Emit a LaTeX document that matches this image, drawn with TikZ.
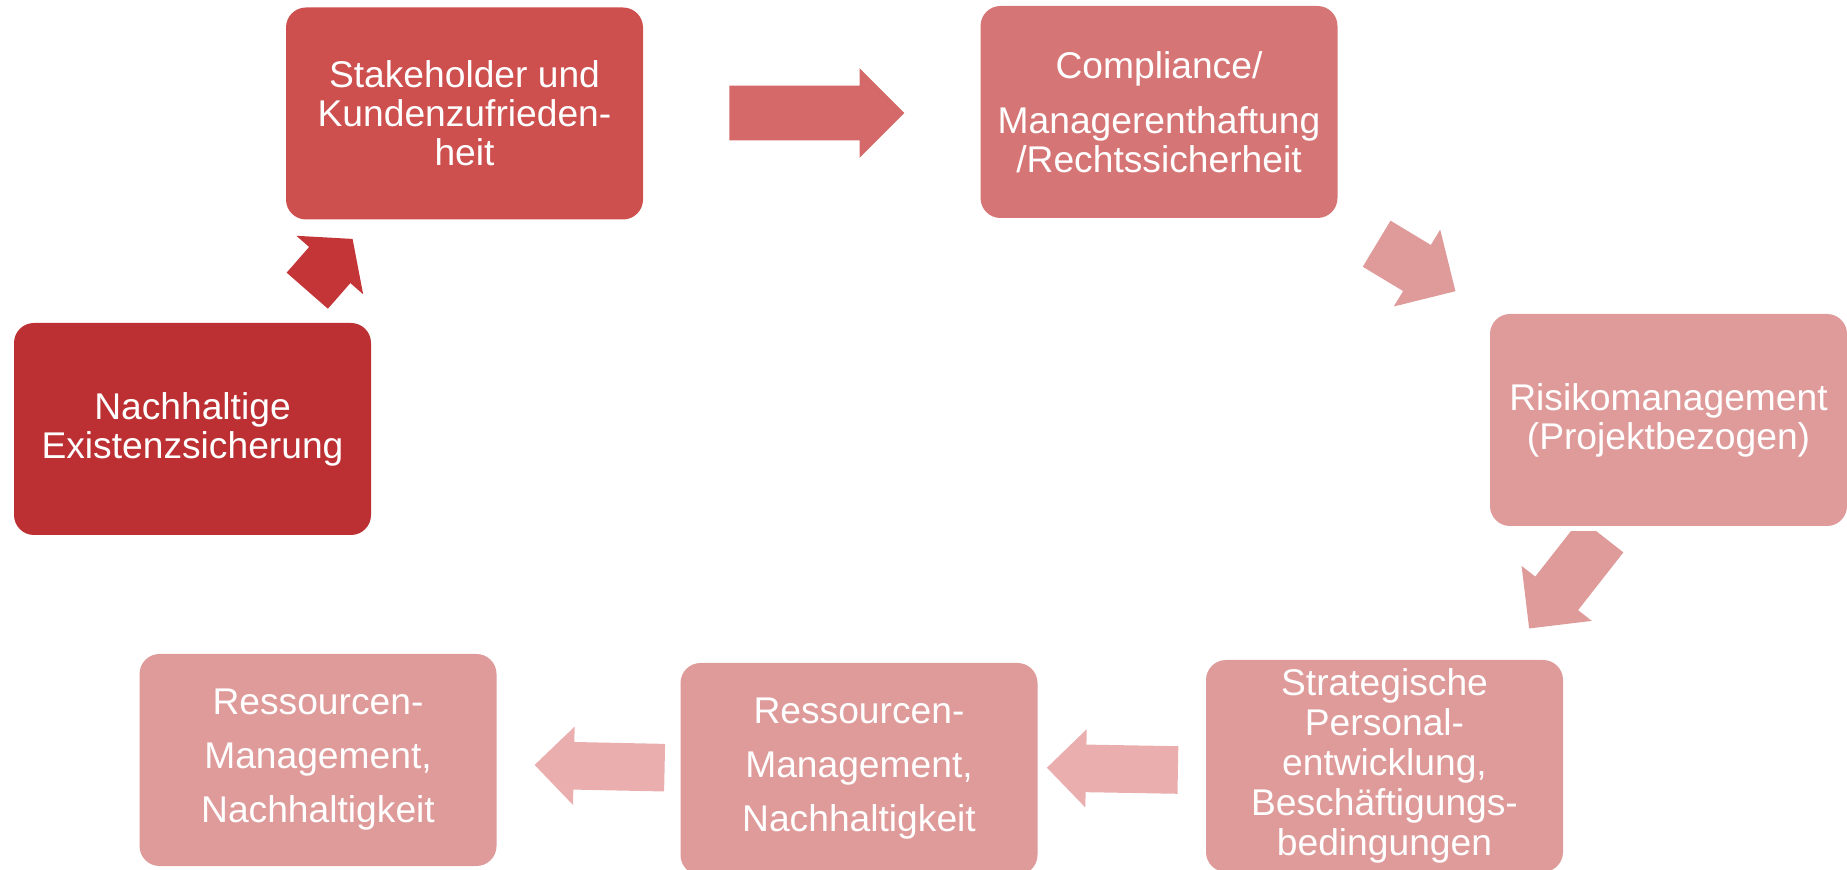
\documentclass[tikz,border=0pt]{standalone}
\usepackage{fontspec}
\setmainfont{Liberation Sans}
\usepackage{tikz}
\usetikzlibrary{shapes.arrows}

\definecolor{redDark}{RGB}{188,48,51}
\definecolor{redArrowA}{RGB}{195,53,55}
\definecolor{redMid}{RGB}{205,80,79}
\definecolor{redArrowB}{RGB}{213,104,104}
\definecolor{redLight}{RGB}{214,117,117}
\definecolor{rosePale}{RGB}{223,154,154}
\definecolor{roseArrow}{RGB}{234,174,174}

\begin{document}
\begin{tikzpicture}[%
    x=0.5pt,
    y=-0.5pt,
    box/.style={%
        rounded corners=10pt,
        minimum width=178.5pt,
        minimum height=106pt,
        inner sep=2pt,
        align=center,
        text=white,
        font=\fontsize{18.6}{19.5}\selectfont
    },
    blockArrow/.style={%
        single arrow,
        anchor=tail,
        inner xsep=0pt,
        single arrow tip angle=90
    }
]

\clip (0,0) rectangle (1847,870);

% Boxes
    \node[box, fill=redDark] (existenz) at (192.5,429) {Nachhaltige\\Existenzsicherung};
    \node[box, fill=redMid] (stakeholder) at (464.5,113.5) {Stakeholder und\\Kundenzufrieden-\\heit};
    \node[box, fill=redLight] (compliance) at (1159,112) {Compliance/\\[8pt]Managerenthaftung\\/Rechtssicherheit};
    \node[box, fill=rosePale] (risiko) at (1668.5,420) {Risikomanagement\\(Projektbezogen)};
    \node[box, fill=rosePale, font=\fontsize{18.6}{20}\selectfont] (personal) at (1384.5,766) {Strategische\\Personal-\\entwicklung,\\Beschäftigungs-\\bedingungen};
    \node[box, fill=rosePale] (ressourcenA) at (859,769) {Ressourcen-\\[7.5pt]Management,\\[7.5pt]Nachhaltigkeit};
    \node[box, fill=rosePale] (ressourcenB) at (318,760) {Ressourcen-\\[7.5pt]Management,\\[7.5pt]Nachhaltigkeit};

% Block arrows
    \node[blockArrow, fill=redArrowA, rotate=48.8, minimum height=34.4pt, inner ysep=13.5pt,
        single arrow head extend=8.5pt, single arrow tip angle=104] (arrowA) at (307,291) {};
    \node[blockArrow, fill=redArrowB, minimum height=87.5pt, inner ysep=13.5pt,
        single arrow head extend=8.75pt] (arrowB) at (729,113) {};
    \node[blockArrow, fill=rosePale, rotate=-31.1, minimum height=46pt, inner ysep=13.25pt,
        single arrow head extend=9pt] (arrowC) at (1376.3,243.5) {};
    \begin{scope}
    \clip (1400,531.7) rectangle (1700,700);
    \node[blockArrow, fill=rosePale, rotate=-128.1, minimum height=59pt, inner ysep=13.4pt,
        single arrow head extend=8.7pt] (arrowD) at (1602.2,535.3) {};
    \end{scope}
    \node[blockArrow, fill=roseArrow, rotate=179, minimum height=65.5pt, inner ysep=11.7pt,
        single arrow head extend=7.65pt] (arrowE) at (1178.3,770) {};
    \node[blockArrow, fill=roseArrow, rotate=178.8, minimum height=65pt, inner ysep=11.7pt,
        single arrow head extend=7.7pt] (arrowF) at (665,767.7) {};

\end{tikzpicture}
\end{document}
